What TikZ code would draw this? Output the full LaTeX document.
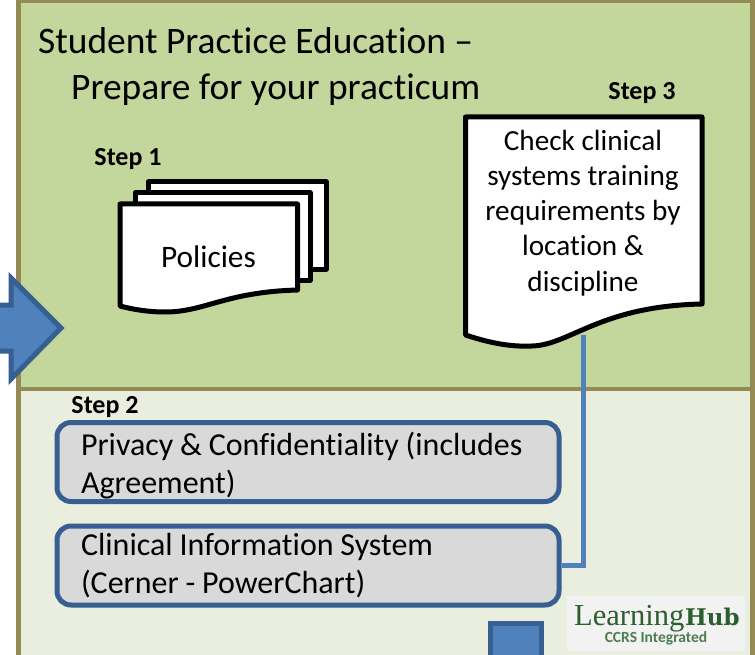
\documentclass[tikz,border=0pt]{standalone}
\usepackage{fontspec}
\setmainfont{Carlito}[Ligatures={NoCommon,TeX}]
\newfontfamily\logoserif{Liberation Serif}
\newfontfamily\logoslab{DejaVu Serif}
\definecolor{panelgreen}{HTML}{C3D69B}
\definecolor{panellight}{HTML}{E9EEDE}
\definecolor{panelline}{HTML}{948A54}
\definecolor{bluefill}{HTML}{4F81BD}
\definecolor{blueline}{HTML}{385F91}
\definecolor{boxgrey}{HTML}{D9D9D9}
\definecolor{logodark}{HTML}{2C5E2E}
\definecolor{logolight}{HTML}{4C7F4F}
\newcommand\boxstart{\spaceskip=6.8pt\relax\hspace*{12pt}}
\tikzset{
  panel/.style={draw=panelline,line width=4.5pt},
  docshape/.style={draw=black,fill=white,line width=5pt,line join=round},
  bigblue/.style={draw=blueline,fill=bluefill,line width=5pt,line join=miter},
  stepbox/.style={draw=blueline,fill=boxgrey,line width=5pt,rounded corners=14pt,minimum width=502pt,minimum height=79pt,inner sep=0pt,text width=478pt,align=left,font=\fontsize{32}{38.5}\selectfont},
  steplabel/.style={font=\fontsize{26}{30}\selectfont\bfseries,inner sep=0pt},
  doctext/.style={font=\fontsize{29.2}{35.2}\selectfont,align=center,inner sep=0pt},
  connector/.style={draw=bluefill,line width=5pt,line join=miter}
}
\begin{document}
\begin{tikzpicture}[x=1pt,y=-1pt]
\useasboundingbox (0,0) rectangle (755,655);
\fill[white] (0,0) rectangle (755,655);
% panels
\fill[panellight] (18.5,389) rectangle (752.5,655);
\fill[panelgreen] (18.5,1) rectangle (752.5,389);
\draw[panel] (18.5,655) -- (18.5,1) -- (752.5,1) -- (752.5,655);
\draw[panel] (18.5,389) -- (752.5,389);
% title
\node[anchor=west,align=left,inner sep=0pt,font=\fontsize{37.4}{46}\selectfont] (title) at (38,67) {Student Practice Education --\\\hspace*{33pt}Prepare for your practicum};
% step labels
\node[steplabel] (s1) at (128,159) {Step 1};
\node[steplabel] (s3) at (642,93) {Step 3};
\node[steplabel] (s2) at (105,407) {Step 2};
% policies stack
\draw[docshape] (148.5,182) rectangle (326,269);
\draw[docshape] (135,193) rectangle (310,280);
\draw[docshape] (120,204) -- (297.5,204) -- (297.5,290)
  .. controls (225,292) and (205,312) .. (165,312)
  .. controls (150,312) and (135,310) .. (120,306) -- cycle;
\node[inner sep=0pt,font=\fontsize{31.3}{36}\selectfont] (pol) at (208.5,257) {Policies};
% check document
\draw[docshape] (465.5,117) -- (702,117) -- (702,304)
  .. controls (600,306) and (570,345) .. (532,346)
  .. controls (510,347) and (490,343) .. (465.5,335) -- cycle;
\node[doctext] (chk) at (583,213) {Check clinical\\systems training\\requirements by\\location \&\\discipline};
\coordinate (docend) at (583,335);
% step boxes
\node[stepbox] (b1) at (308,462) {\rule{0pt}{30pt}\boxstart Privacy \& Confidentiality (includes\\\hspace*{12pt}Agreement)};
\node[stepbox] (b2) at (308,565.5) {\boxstart Clinical Information System\\\hspace*{12pt}(Cerner - PowerChart)};
% connector
\draw[connector] (docend) |- (b2.east);
% big arrow
\draw[bigblue] (-6,305) -- (11,305) -- (11,278) -- (61,328) -- (11,379) -- (11,351) -- (-6,351) -- cycle;
% bottom square
\draw[bigblue] (490,623) rectangle (541,662);
% logo
\fill[white!95!black] (567,596) rectangle (745,651);
\node[anchor=base west,inner sep=0pt,text=logodark,font=\fontsize{30.5}{32}\logoserif] (lh1) at (574,625) {Learning};
\node[anchor=base west,inner sep=0pt,text=logodark,font=\fontsize{23}{25}\logoslab\bfseries] (lh2) at (685,625) {Hub};
\node[inner sep=0pt,text=logolight,font=\fontsize{15.5}{16}\bfseries] (lh3) at (656,638) {CCRS Integrated};
\end{tikzpicture}
\end{document}
